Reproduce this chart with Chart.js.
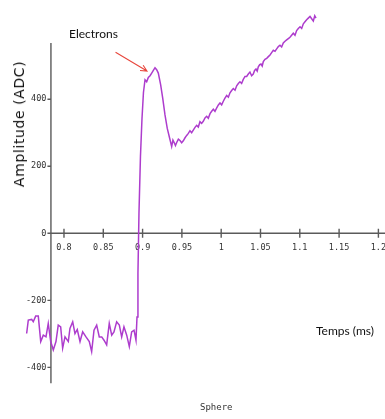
<!DOCTYPE html>
<html>
<head>
<meta charset="utf-8">
<script src="https://cdn.jsdelivr.net/npm/chart.js@4.4.1/dist/chart.umd.min.js"></script>
<style>
  html, body { margin: 0; padding: 0; background: #fff; }
  #wrap { position: relative; width: 385px; height: 419px; overflow: hidden; }
  canvas { position: absolute; left: 0; top: 0; }
  .lbl { position: absolute; white-space: nowrap; color: #111; }
  #ytitle { font-family: 'DejaVu Sans', sans-serif; font-size: 14px; letter-spacing: 0.6px;
            left: 19px; top: 124px; transform: translate(-50%, -50%) rotate(-90deg); }
  #electrons { font-family: Lato, sans-serif; font-size: 12px; left: 69px; top: 26px; }
  #temps { font-family: Lato, sans-serif; font-size: 12px; left: 316px; top: 323px; }
  #sphere { font-family: 'DejaVu Sans Mono', monospace; font-size: 9px; left: 200px; top: 402px; color: #333; }
</style>
</head>
<body>
<div id="wrap">
  <canvas id="c" width="385" height="419"></canvas>
  <div class="lbl" id="ytitle">Amplitude (ADC)</div>
  <div class="lbl" id="electrons">Electrons</div>
  <div class="lbl" id="temps">Temps (ms)</div>
  <div class="lbl" id="sphere">Sphere</div>
</div>
<script>
// ---- data ----
const TIME_MS = [
  0.7525, 0.7546, 0.7589, 0.7609, 0.7640, 0.7673, 0.7704, 0.7737, 0.7771, 0.7800,
  0.7831, 0.7864, 0.7898, 0.7927, 0.7958, 0.7983, 0.8013, 0.8055, 0.8076, 0.8111,
  0.8140, 0.8169, 0.8204, 0.8238, 0.8280, 0.8322, 0.8352, 0.8382, 0.8416, 0.8449,
  0.8480, 0.8509, 0.8543, 0.8576, 0.8607, 0.8636, 0.8670, 0.8704, 0.8734, 0.8763,
  0.8798, 0.8831, 0.8861, 0.8891, 0.8916, 0.8929, 0.8941, 0.8954, 0.8973, 0.8992,
  0.9011, 0.9031, 0.9052, 0.9073, 0.9095, 0.9116, 0.9137, 0.9158, 0.9179, 0.9200,
  0.9230, 0.9256, 0.9285, 0.9314, 0.9349, 0.9370, 0.9386, 0.9403, 0.9418, 0.9434,
  0.9455, 0.9476, 0.9497, 0.9518, 0.9540, 0.9561, 0.9582, 0.9603, 0.9624, 0.9645,
  0.9667, 0.9688, 0.9709, 0.9730, 0.9751, 0.9772, 0.9794, 0.9815, 0.9836, 0.9858,
  0.9879, 0.9900, 0.9921, 0.9943, 0.9964, 0.9985, 1.0006, 1.0027, 1.0048, 1.0070,
  1.0091, 1.0112, 1.0133, 1.0154, 1.0176, 1.0197, 1.0218, 1.0239, 1.0260, 1.0281,
  1.0303, 1.0324, 1.0345, 1.0366, 1.0387, 1.0408, 1.0425, 1.0443, 1.0458, 1.0472,
  1.0490, 1.0507, 1.0522, 1.0536, 1.0557, 1.0579, 1.0600, 1.0621, 1.0642, 1.0663,
  1.0685, 1.0706, 1.0727, 1.0748, 1.0769, 1.0790, 1.0812, 1.0833, 1.0854, 1.0875,
  1.0896, 1.0917, 1.0939, 1.0960, 1.0981, 1.1003, 1.1024, 1.1045, 1.1066, 1.1087,
  1.1108, 1.1130, 1.1151, 1.1172, 1.1190, 1.1206
];
const AMPLITUDE_ADC = [
  -299, -259, -257, -264, -247, -247, -323, -304, -309, -269,
  -323, -348, -323, -274, -279, -343, -309, -323, -284, -264,
  -299, -287, -323, -294, -309, -323, -353, -289, -274, -309,
  -309, -319, -333, -269, -304, -294, -264, -274, -309, -279,
  -304, -338, -294, -289, -319, -250, -120, 60, 230, 340,
  420, 458, 452, 465, 470, 478, 486, 494, 488, 478,
  443, 403, 353, 313, 279, 259, 278, 270, 262, 271,
  281, 277, 270, 276, 285, 292, 298, 306, 300, 308,
  316, 322, 317, 333, 328, 334, 344, 349, 343, 357,
  364, 370, 364, 374, 383, 389, 383, 394, 403, 411,
  406, 419, 426, 432, 427, 440, 447, 452, 447, 459,
  468, 468, 475, 481, 470, 475, 486, 490, 484, 497,
  503, 505, 499, 512, 519, 522, 527, 532, 539, 546,
  543, 550, 557, 561, 556, 568, 573, 577, 581, 585,
  591, 597, 591, 605, 611, 616, 611, 625, 631, 637,
  642, 647, 640, 633, 649, 642
];
const X_TICKS = [0.8, 0.85, 0.9, 0.95, 1, 1.05, 1.1, 1.15, 1.2];
const X_TICK_LABELS = ['0.8', '0.85', '0.9', '0.95', '1', '1.05', '1.1', '1.15', '1.2'];
const Y_TICKS = [-400, -200, 0, 200, 400];
const Y_TICK_LABELS = ['-400', '-200', '0', '200', '400'];
const X_RANGE = [0.7186, 1.2084];
const Y_RANGE = [-554, 696];
const Y_AXIS_AT = 0.7834;            // x value where the y axis crosses
const X_AXIS_AT = 0;                 // y value where the x axis crosses
const Y_AXIS_EXTENT = [-447, 568];   // drawn length of the y axis line
const X_AXIS_EXTENT = [0.7800, 1.21];
const ARROW_FROM = [0.8656, 540];
const ARROW_TO = [0.9056, 484];

const points = TIME_MS.map((t, i) => ({ x: t, y: AMPLITUDE_ADC[i] }));
const AXIS_COLOR = '#5a5a5a';
const TICK_FONT = '8.5px "DejaVu Sans Mono"';

const zeroFit = s => {
  s.paddingLeft = s.paddingRight = s.paddingTop = s.paddingBottom = 0;
  if (s.isHorizontal()) s.height = 0; else s.width = 0;
};

const axesPlugin = {
  id: 'axesPlugin',
  beforeDatasetsDraw(chart) {
    const { ctx, scales: { x, y } } = chart;
    ctx.save();
    ctx.strokeStyle = AXIS_COLOR;
    ctx.lineWidth = 1.4;
    const yx = x.getPixelForValue(Y_AXIS_AT);
    const xy = y.getPixelForValue(X_AXIS_AT);
    ctx.beginPath();
    ctx.moveTo(yx, y.getPixelForValue(Y_AXIS_EXTENT[0]));
    ctx.lineTo(yx, y.getPixelForValue(Y_AXIS_EXTENT[1]));
    ctx.moveTo(x.getPixelForValue(X_AXIS_EXTENT[0]), xy);
    ctx.lineTo(x.getPixelForValue(X_AXIS_EXTENT[1]), xy);
    X_TICKS.forEach(v => {
      const px = x.getPixelForValue(v);
      ctx.moveTo(px, xy - 4.5);
      ctx.lineTo(px, xy + 4.5);
    });
    Y_TICKS.forEach(v => {
      const py = y.getPixelForValue(v);
      ctx.moveTo(yx - 3.5, py);
      ctx.lineTo(yx, py);
    });
    ctx.stroke();
    // y tick labels, left of the axis line
    ctx.fillStyle = '#333';
    ctx.font = TICK_FONT;
    ctx.textAlign = 'right';
    ctx.textBaseline = 'middle';
    Y_TICKS.forEach((v, i) => {
      ctx.fillText(Y_TICK_LABELS[i], yx - 4.5, y.getPixelForValue(v));
    });
    ctx.restore();
  },
  afterDatasetsDraw(chart) {
    const { ctx, scales: { x, y } } = chart;
    const x0 = x.getPixelForValue(ARROW_FROM[0]), y0 = y.getPixelForValue(ARROW_FROM[1]);
    const x1 = x.getPixelForValue(ARROW_TO[0]), y1 = y.getPixelForValue(ARROW_TO[1]);
    const a = Math.atan2(y1 - y0, x1 - x0);
    ctx.save();
    ctx.strokeStyle = '#e8463c';
    ctx.lineWidth = 1.1;
    ctx.beginPath();
    ctx.moveTo(x0, y0);
    ctx.lineTo(x1, y1);
    ctx.moveTo(x1 - 7 * Math.cos(a - 0.45), y1 - 7 * Math.sin(a - 0.45));
    ctx.lineTo(x1, y1);
    ctx.lineTo(x1 - 7 * Math.cos(a + 0.45), y1 - 7 * Math.sin(a + 0.45));
    ctx.stroke();
    ctx.restore();
  }
};

new Chart(document.getElementById('c'), {
  type: 'line',
  data: {
    datasets: [{
      data: points,
      borderColor: '#ad3ccd',
      borderWidth: 1.5,
      pointRadius: 0,
      tension: 0,
      fill: false
    }]
  },
  options: {
    responsive: false,
    animation: false,
    devicePixelRatio: 1,
    layout: { padding: 0 },
    plugins: { legend: { display: false }, tooltip: { enabled: false } },
    scales: {
      x: {
        type: 'linear',
        min: X_RANGE[0], max: X_RANGE[1],
        position: { y: X_AXIS_AT },
        grid: { display: false, drawTicks: false },
        border: { display: false },
        afterBuildTicks: s => { s.ticks = X_TICKS.map(v => ({ value: v })); },
        afterFit: zeroFit,
        ticks: {
          autoSkip: false, maxRotation: 0, padding: 9,
          color: '#333', font: { family: 'DejaVu Sans Mono', size: 8.5 },
          callback: (v, i) => X_TICK_LABELS[i]
        }
      },
      y: {
        type: 'linear',
        min: Y_RANGE[0], max: Y_RANGE[1],
        position: { x: Y_AXIS_AT },
        grid: { display: false, drawTicks: false },
        border: { display: false },
        afterBuildTicks: s => { s.ticks = Y_TICKS.map(v => ({ value: v })); },
        afterFit: zeroFit,
        ticks: { display: false }
      }
    }
  },
  plugins: [axesPlugin]
});
</script>
</body>
</html>
